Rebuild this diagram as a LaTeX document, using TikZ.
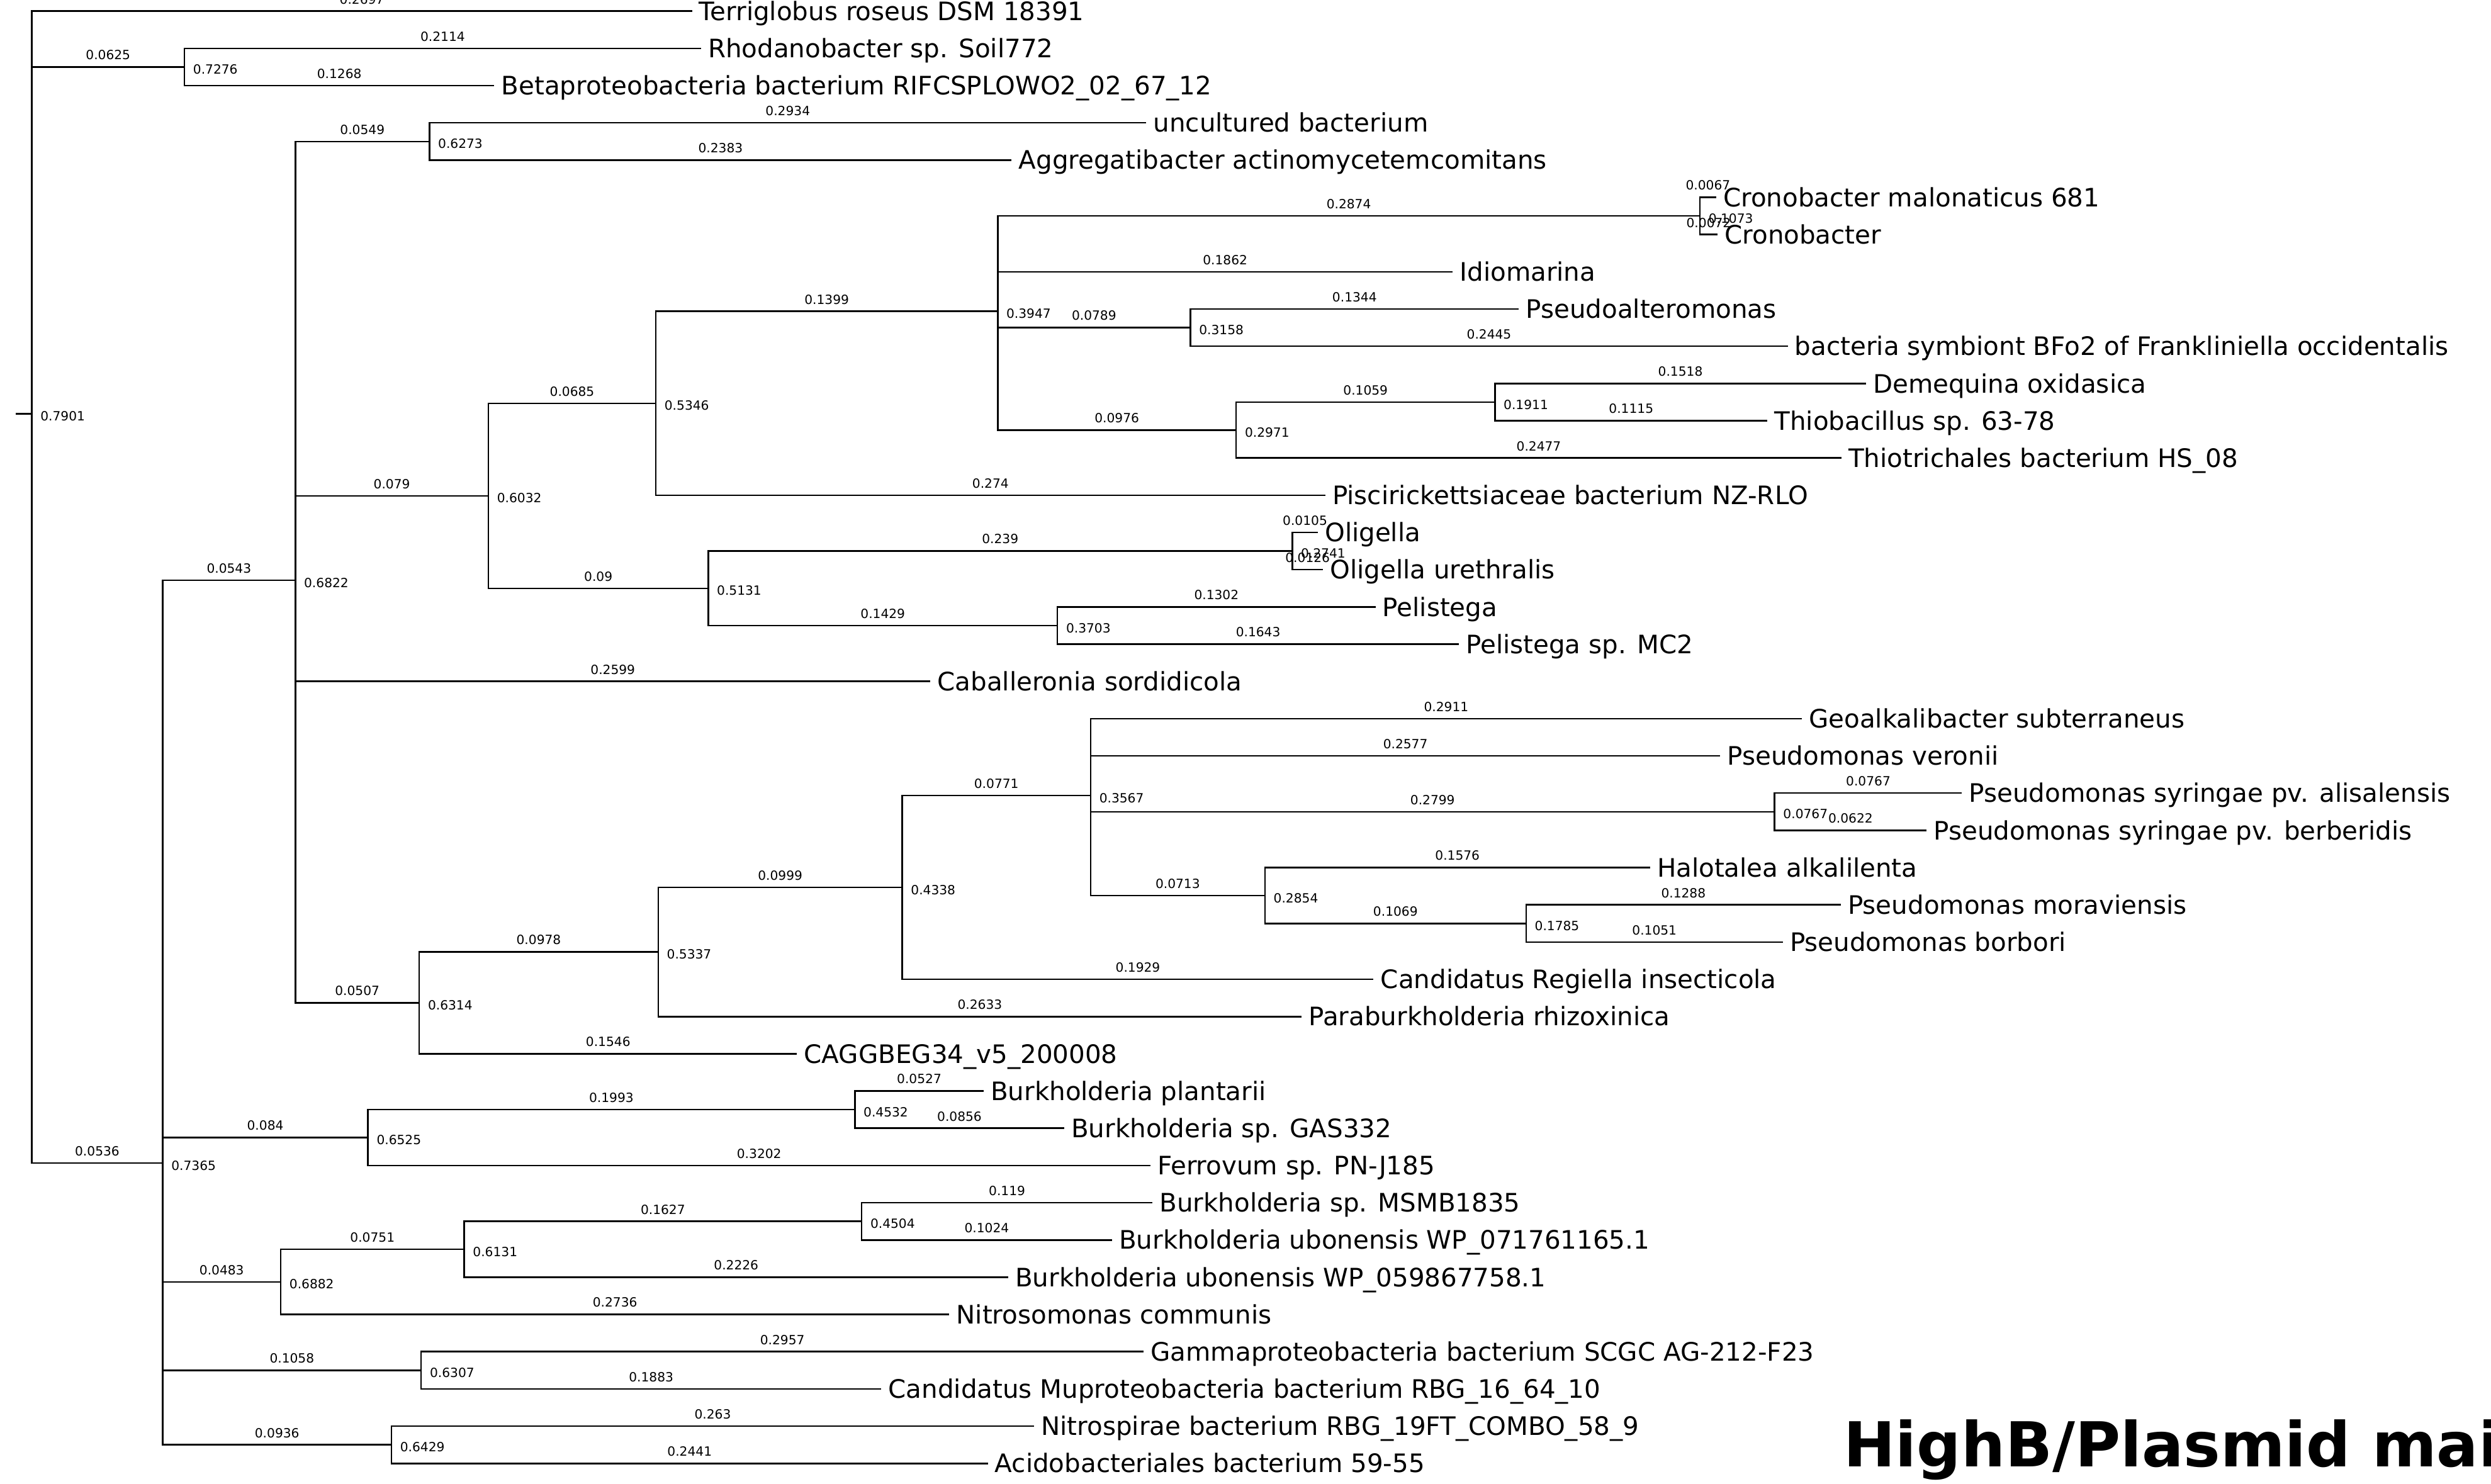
\documentclass[tikz,border=0pt]{standalone}
\usepackage{fontspec}
\setmainfont{DejaVu Sans}
\begin{document}
\begin{tikzpicture}[x=1pt,y=-23.44pt,line width=1pt,
    leaf/.style={anchor=west,inner xsep=4pt,inner ysep=0pt,text height=11.6pt,text depth=0pt,font=\fontsize{16}{19}\selectfont},
    blen/.style={pos=0.75,above=4pt,inner sep=0pt,font=\fontsize{8}{9}\selectfont},
    supp/.style={anchor=west,inner sep=0pt,xshift=5pt,yshift=-1.5pt,font=\fontsize{8}{9}\selectfont}]
  \useasboundingbox (0,-0.2986) rectangle (1568,39.548);

  % inner nodes of the tree
  \coordinate (stub) at (10,10.811);
  \coordinate (root) at (20,10.811);
  \coordinate (A)  at (116.1,1.5);
  \coordinate (B)  at (102.4,30.932);
  \coordinate (C)  at (185.9,15.287);
  \coordinate (H)  at (270.3,3.5);
  \coordinate (I)  at (307.4,13.016);
  \coordinate (J)  at (412.8,10.531);
  \coordinate (K)  at (628.0,8.0625);
  \coordinate (L)  at (1070.0,5.5);
  \coordinate (M)  at (749.3,8.5);
  \coordinate (N)  at (778.1,11.25);
  \coordinate (O)  at (941.0,10.5);
  \coordinate (P)  at (445.8,15.5);
  \coordinate (Q)  at (813.4,14.5);
  \coordinate (R)  at (665.6,16.5);
  \coordinate (S)  at (263.9,26.633);
  \coordinate (T)  at (414.3,25.266);
  \coordinate (U)  at (567.9,23.531);
  \coordinate (V)  at (686.5,21.0625);
  \coordinate (W)  at (1117.0,21.5);
  \coordinate (X)  at (796.2,23.75);
  \coordinate (Y)  at (960.6,24.5);
  \coordinate (D)  at (231.6,30.25);
  \coordinate (Z)  at (538.1,29.5);
  \coordinate (E)  at (176.7,34.125);
  \coordinate (AA) at (292.2,33.25);
  \coordinate (AB) at (542.4,32.5);
  \coordinate (F)  at (265.1,36.5);
  \coordinate (G)  at (246.4,38.5);

  % leaves
  \node[leaf] (terri)  at (435.6,0)  {Terriglobus roseus DSM 18391};
  \node[leaf] (rhoda)  at (441.2,1)  {Rhodanobacter sp. Soil772};
  \node[leaf] (betap)  at (311.1,2)  {Betaproteobacteria bacterium RIFCSPLOWO2\_02\_67\_12};
  \node[leaf] (uncul)  at (721.5,3)  {uncultured bacterium};
  \node[leaf] (aggre)  at (636.8,4)  {Aggregatibacter actinomycetemcomitans};
  \node[leaf] (cromal) at (1080.3,5) {Cronobacter malonaticus 681};
  \node[leaf] (cronob) at (1081.1,6) {Cronobacter};
  \node[leaf] (idiom)  at (914.4,7)  {Idiomarina};
  \node[leaf] (pseal)  at (956.0,8)  {Pseudoalteromonas};
  \node[leaf] (bfo)    at (1125.3,9) {bacteria symbiont BFo2 of Frankliniella occidentalis};
  \node[leaf] (demeq)  at (1174.5,10) {Demequina oxidasica};
  \node[leaf] (thiob)  at (1112.5,11) {Thiobacillus sp. 63-78};
  \node[leaf] (thiot)  at (1159.1,12) {Thiotrichales bacterium HS\_08};
  \node[leaf] (pisci)  at (834.2,13) {Piscirickettsiaceae bacterium NZ-RLO};
  \node[leaf] (olig)   at (829.5,14) {Oligella};
  \node[leaf] (oliur)  at (832.8,15) {Oligella urethralis};
  \node[leaf] (pelis)  at (865.8,16) {Pelistega};
  \node[leaf] (pelmc)  at (918.3,17) {Pelistega sp. MC2};
  \node[leaf] (cabal)  at (585.6,18) {Caballeronia sordidicola};
  \node[leaf] (geoal)  at (1134.2,19) {Geoalkalibacter subterraneus};
  \node[leaf] (psver)  at (1082.8,20) {Pseudomonas veronii};
  \node[leaf] (psali)  at (1235.0,21) {Pseudomonas syringae pv. alisalensis};
  \node[leaf] (psber)  at (1212.7,22) {Pseudomonas syringae pv. berberidis};
  \node[leaf] (halot)  at (1038.6,23) {Halotalea alkalilenta};
  \node[leaf] (psmor)  at (1158.7,24) {Pseudomonas moraviensis};
  \node[leaf] (psbor)  at (1122.2,25) {Pseudomonas borbori};
  \node[leaf] (regie)  at (864.6,26) {Candidatus Regiella insecticola};
  \node[leaf] (parab)  at (819.3,27) {Paraburkholderia rhizoxinica};
  \node[leaf] (caggb)  at (501.7,28) {CAGGBEG34\_v5\_200008};
  \node[leaf] (bupla)  at (619.1,29) {Burkholderia plantarii};
  \node[leaf] (bugas)  at (669.8,30) {Burkholderia sp. GAS332};
  \node[leaf] (ferro)  at (724.1,31) {Ferrovum sp. PN-J185};
  \node[leaf] (bumsm)  at (725.4,32) {Burkholderia sp. MSMB1835};
  \node[leaf] (bubo1)  at (699.9,33) {Burkholderia ubonensis WP\_071761165.1};
  \node[leaf] (bubo2)  at (634.6,34) {Burkholderia ubonensis WP\_059867758.1};
  \node[leaf] (nitso)  at (597.5,35) {Nitrosomonas communis};
  \node[leaf] (gamma)  at (719.9,36) {Gammaproteobacteria bacterium SCGC AG-212-F23};
  \node[leaf] (mupro)  at (554.7,37) {Candidatus Muproteobacteria bacterium RBG\_16\_64\_10};
  \node[leaf] (nitsp)  at (650.9,38) {Nitrospirae bacterium RBG\_19FT\_COMBO\_58\_9};
  \node[leaf] (acido)  at (621.8,39) {Acidobacteriales bacterium 59-55};

  % branches
  \draw (stub) -- (root);
  \draw (root) |- (terri.west) node[blen] {0.2697};
  \draw (root) |- (A) node[blen] {0.0625};
  \draw (root) |- (B) node[blen] {0.0536};
  \draw (A) |- (rhoda.west) node[blen] {0.2114};
  \draw (A) |- (betap.west) node[blen] {0.1268};
  \draw (B) |- (C) node[blen] {0.0543};
  \draw (B) |- (D) node[blen] {0.084};
  \draw (B) |- (E) node[blen] {0.0483};
  \draw (B) |- (F) node[blen] {0.1058};
  \draw (B) |- (G) node[blen] {0.0936};
  \draw (C) |- (H) node[blen] {0.0549};
  \draw (C) |- (I) node[blen] {0.079};
  \draw (C) |- (cabal.west) node[blen] {0.2599};
  \draw (C) |- (S) node[blen] {0.0507};
  \draw (H) |- (uncul.west) node[blen] {0.2934};
  \draw (H) |- (aggre.west) node[blen] {0.2383};
  \draw (I) |- (J) node[blen] {0.0685};
  \draw (I) |- (P) node[blen] {0.09};
  \draw (J) |- (K) node[blen] {0.1399};
  \draw (J) |- (pisci.west) node[blen] {0.274};
  \draw (K) |- (L) node[blen] {0.2874};
  \draw (K) |- (idiom.west) node[blen] {0.1862};
  \draw (K) |- (M) node[blen] {0.0789};
  \draw (K) |- (N) node[blen] {0.0976};
  \draw (L) |- (cromal.west) node[blen] {0.0067};
  \draw (L) |- (cronob.west) node[blen] {0.0072};
  \draw (M) |- (pseal.west) node[blen] {0.1344};
  \draw (M) |- (bfo.west) node[blen] {0.2445};
  \draw (N) |- (O) node[blen] {0.1059};
  \draw (N) |- (thiot.west) node[blen] {0.2477};
  \draw (O) |- (demeq.west) node[blen] {0.1518};
  \draw (O) |- (thiob.west) node[blen] {0.1115};
  \draw (P) |- (Q) node[blen] {0.239};
  \draw (P) |- (R) node[blen] {0.1429};
  \draw (Q) |- (olig.west) node[blen] {0.0105};
  \draw (Q) |- (oliur.west) node[blen] {0.0126};
  \draw (R) |- (pelis.west) node[blen] {0.1302};
  \draw (R) |- (pelmc.west) node[blen] {0.1643};
  \draw (S) |- (T) node[blen] {0.0978};
  \draw (S) |- (caggb.west) node[blen] {0.1546};
  \draw (T) |- (U) node[blen] {0.0999};
  \draw (T) |- (parab.west) node[blen] {0.2633};
  \draw (U) |- (V) node[blen] {0.0771};
  \draw (U) |- (regie.west) node[blen] {0.1929};
  \draw (V) |- (geoal.west) node[blen] {0.2911};
  \draw (V) |- (psver.west) node[blen] {0.2577};
  \draw (V) |- (W) node[blen] {0.2799};
  \draw (V) |- (X) node[blen] {0.0713};
  \draw (W) |- (psali.west) node[blen] {0.0767};
  \draw (W) |- (psber.west) node[blen] {0.0622};
  \draw (X) |- (halot.west) node[blen] {0.1576};
  \draw (X) |- (Y) node[blen] {0.1069};
  \draw (Y) |- (psmor.west) node[blen] {0.1288};
  \draw (Y) |- (psbor.west) node[blen] {0.1051};
  \draw (D) |- (Z) node[blen] {0.1993};
  \draw (D) |- (ferro.west) node[blen] {0.3202};
  \draw (Z) |- (bupla.west) node[blen] {0.0527};
  \draw (Z) |- (bugas.west) node[blen] {0.0856};
  \draw (E) |- (AA) node[blen] {0.0751};
  \draw (E) |- (nitso.west) node[blen] {0.2736};
  \draw (AA) |- (AB) node[blen] {0.1627};
  \draw (AA) |- (bubo2.west) node[blen] {0.2226};
  \draw (AB) |- (bumsm.west) node[blen] {0.119};
  \draw (AB) |- (bubo1.west) node[blen] {0.1024};
  \draw (F) |- (gamma.west) node[blen] {0.2957};
  \draw (F) |- (mupro.west) node[blen] {0.1883};
  \draw (G) |- (nitsp.west) node[blen] {0.263};
  \draw (G) |- (acido.west) node[blen] {0.2441};

  % support values
  \node[supp] (sroot) at (root) {0.7901};
  \node[supp] (sA)  at (A)  {0.7276};
  \node[supp] (sB)  at (B)  {0.7365};
  \node[supp] (sC)  at (C)  {0.6822};
  \node[supp] (sH)  at (H)  {0.6273};
  \node[supp] (sI)  at (I)  {0.6032};
  \node[supp] (sJ)  at (J)  {0.5346};
  \node[supp] (sK)  at (K)  {0.3947};
  \node[supp] (sL)  at (L)  {0.1073};
  \node[supp] (sM)  at (M)  {0.3158};
  \node[supp] (sN)  at (N)  {0.2971};
  \node[supp] (sO)  at (O)  {0.1911};
  \node[supp] (sP)  at (P)  {0.5131};
  \node[supp] (sQ)  at (Q)  {0.2741};
  \node[supp] (sR)  at (R)  {0.3703};
  \node[supp] (sS)  at (S)  {0.6314};
  \node[supp] (sT)  at (T)  {0.5337};
  \node[supp] (sU)  at (U)  {0.4338};
  \node[supp] (sV)  at (V)  {0.3567};
  \node[supp] (sW)  at (W)  {0.0767};
  \node[supp] (sX)  at (X)  {0.2854};
  \node[supp] (sY)  at (Y)  {0.1785};
  \node[supp] (sD)  at (D)  {0.6525};
  \node[supp] (sZ)  at (Z)  {0.4532};
  \node[supp] (sE)  at (E)  {0.6882};
  \node[supp] (sAA) at (AA) {0.6131};
  \node[supp] (sAB) at (AB) {0.4504};
  \node[supp] (sF)  at (F)  {0.6307};
  \node[supp] (sG)  at (G)  {0.6429};

  \node[anchor=base west,inner sep=0pt,font=\bfseries\fontsize{39}{45}\selectfont] (title) at (1160,39.08) {HighB/Plasmid mai};
\end{tikzpicture}
\end{document}
